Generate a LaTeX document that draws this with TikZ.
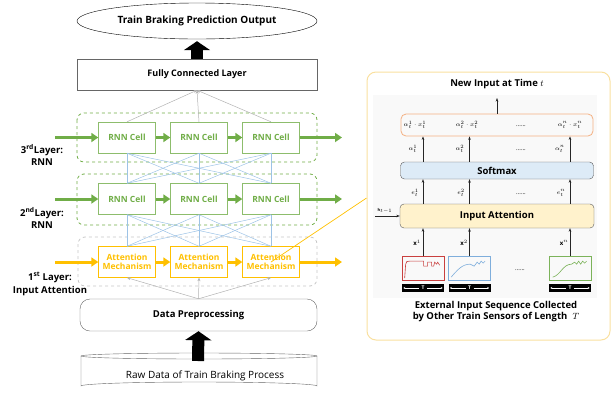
\documentclass[tikz,border=0pt]{standalone}
\usepackage{fontspec}
\setmainfont{Open Sans}
\usepackage{amsmath}
\usepackage{xcolor}
\usepackage{tikz}
\usetikzlibrary{arrows.meta}
\usetikzlibrary{shapes.geometric}
\definecolor{rnngreen}{HTML}{70AD47}
\definecolor{attgold}{HTML}{FFC000}
\definecolor{linkblue}{HTML}{9DC3E6}
\definecolor{softblue}{HTML}{DDEBF7}
\definecolor{attcream}{HTML}{FFF2CC}
\definecolor{panelgold}{HTML}{F9E0A0}
\definecolor{prodorange}{HTML}{F4B183}
\definecolor{sigred}{HTML}{C9403F}
\definecolor{sigblue}{HTML}{7FAEDC}
\definecolor{siggreen}{HTML}{7CB35A}

\begin{document}
\begin{tikzpicture}[x=1pt,y=-1pt,
		mainbox/.style={draw=gray!80!black,minimum width=240,minimum height=31,font=\bfseries\fontsize{9}{11}\selectfont},
		cell/.style={draw=rnngreen!80,text=rnngreen,minimum width=57,minimum height=31,inner sep=1pt,font=\bfseries\fontsize{8.5}{10}\selectfont},
		attcell/.style={cell,draw=attgold,text=attgold,align=center},
		layerbox/.style={dashed,rounded corners=7pt,line width=0.8pt},
		fatgreen/.style={rnngreen,line width=3pt,-{Triangle[length=7pt,width=9pt]}},
		fatgold/.style={fatgreen,attgold},
		link/.style={linkblue,line width=0.5pt},
		feed/.style={gray!60,line width=0.5pt,-{Stealth[length=3.5pt,width=3pt]}},
		blockarrow/.style={line width=12pt,-{Triangle[length=9pt,width=26pt]}},
		layerlabel/.style={align=center,font=\bfseries\fontsize{9.5}{12.5}\selectfont},
		thinarrow/.style={gray!30!black,line width=0.5pt,-{Stealth[length=3.5pt,width=2.5pt]}},
		panelbox/.style={draw=gray!70!black,rounded corners=4pt,font=\bfseries\fontsize{9.5}{11}\selectfont},
		mathlabel/.style={font=\fontsize{6}{7}\selectfont,inner sep=0pt},
		sensor/.style={minimum width=42,minimum height=24,line width=0.7pt},
		tbar/.style={fill=black,text=white,minimum width=42,minimum height=8,inner sep=0pt,font=\bfseries\fontsize{5}{5}\selectfont}]
			\useasboundingbox (0,0) rectangle (614,392);
			% left network
			\node[draw,ellipse,minimum width=240,minimum height=36,font=\bfseries\fontsize{10}{12}\selectfont] (out) at (197,21) {Train Braking Prediction Output};
			\node[mainbox] (fc) at (197,74.5) {Fully Connected Layer};
			\draw[blockarrow,shorten >=2pt] (fc.north) -- (out.south);
			\draw[layerbox,rnngreen] (77,113) rectangle (317,162);
			\draw[layerbox,rnngreen] (77,174) rectangle (317,225);
			\draw[layerbox,gray!45] (78,237) rectangle (317,286);
			\foreach \i/\x in {1/127,2/199,3/271} {
				\node[cell] (r3\i) at (\x,137.5) {RNN Cell};
				\node[cell] (r2\i) at (\x,199) {RNN Cell};
				\node[attcell] (att\i) at (\x,262) {Attention\\[-1pt]Mechanism};
			}
			\foreach \i in {1,2,3} {
				\draw[feed] (r3\i.north) -- (fc.south);
				\foreach \j in {1,2,3} {
					\draw[link] (r3\i.south) -- (r2\j.north);
					\draw[link] (r2\i.south) -- (att\j.north);
				}
			}
			\coordinate (r3in) at (55,137.5);
			\coordinate (r3out) at (342,137.5);
			\coordinate (r2in) at (55,199);
			\coordinate (r2out) at (342,199);
			\coordinate (attin) at (55,262);
			\coordinate (attout) at (342,262);
			\draw[fatgreen] (r3in) -- (r31.west);
			\draw[fatgreen] (r31) -- (r32);
			\draw[fatgreen] (r32) -- (r33);
			\draw[fatgreen] (r33.east) -- (r3out);
			\draw[fatgreen] (r2in) -- (r21.west);
			\draw[fatgreen] (r21) -- (r22);
			\draw[fatgreen] (r22) -- (r23);
			\draw[fatgreen] (r23.east) -- (r2out);
			\draw[fatgold] (attin) -- (att1.west);
			\draw[fatgold] (att1) -- (att2);
			\draw[fatgold] (att2) -- (att3);
			\draw[fatgold] (att3.east) -- (attout);
			\node[layerlabel] (l3) at (42,155) {3\textsuperscript{rd}Layer:\\RNN};
			\node[layerlabel] (l2) at (42,218) {2\textsuperscript{nd}Layer:\\RNN};
			\node[layerlabel] (l1) at (50,284) {1\textsuperscript{st} Layer:\\Input Attention};
			\node[mainbox,draw,minimum width=237,minimum height=32,rounded corners=10pt,font=\bfseries\fontsize{9.5}{11}\selectfont] (prep) at (198.5,315) {Data Preprocessing};
			\foreach \i in {1,2,3}
				\draw[feed] (prep.north) -- (att\i.south);
			% raw data cylinder
			\draw[gray!80!black,fill=white] (81,356) -- (81,386) arc (180:360:118 and 4) -- (317,356);
			\draw[gray!80!black,fill=white] (199,356) ellipse (118 and 3);
			\node[font=\fontsize{10}{12}\selectfont] (raw) at (205,376) {Raw Data of Train Braking Process};
			\coordinate (rawtop) at (198,361);
			\draw[blockarrow] (rawtop) -- (prep.south);
			% right panel
			\node[draw=panelgold,line width=1pt,rounded corners=9pt,minimum width=243,minimum height=268] (panel) at (488.5,206) {};
			\fill[gray!5] (373,95) rectangle (597,298);
			\draw[attgold,line width=0.7pt] (att3.center) -- ([yshift=8pt]panel.west);
			\node[font=\bfseries\fontsize{9.5}{11}\selectfont] (newin) at (497,84) {New Input at Time $t$};
			\node[draw=prodorange,line width=0.8pt,rounded corners=5pt,minimum width=192,minimum height=22] (prod) at (497,125) {};
			\node[mathlabel] (p1) at (415,125) {$\alpha_t^1\cdot x_t^1$};
			\node[mathlabel] (p2) at (467,125) {$\alpha_t^2\cdot x_t^2$};
			\node[mathlabel] (p3) at (521,126) {......};
			\node[mathlabel] (p4) at (570,125) {$\alpha_t^n\cdot x_t^n$};
			\coordinate (newtop) at (497,98);
			\draw[thinarrow] (prod.north) -- (newtop);
			\node[panelbox,fill=softblue,minimum width=193,minimum height=17] (soft) at (497,170.5) {Softmax};
			\node[panelbox,fill=attcream,minimum width=194,minimum height=24] (inatt) at (497,216) {Input Attention};
			\coordinate (c1) at (423,0);
			\coordinate (c2) at (469.5,0);
			\coordinate (c3) at (570,0);
			\foreach \k in {1,2,3} {
				\draw[thinarrow] (soft.north -| c\k) -- (prod.south -| c\k);
				\draw[thinarrow] (inatt.north -| c\k) -- (soft.south -| c\k);
			}
			\node[mathlabel] (a1) at (413,149) {$\alpha_t^1$};
			\node[mathlabel] (a2) at (460,149) {$\alpha_t^2$};
			\node[mathlabel] (a3) at (521,150) {......};
			\node[mathlabel] (a4) at (560,149) {$\alpha_t^n$};
			\node[mathlabel] (e1) at (415,193) {$e_t^1$};
			\node[mathlabel] (e2) at (461,193) {$e_t^2$};
			\node[mathlabel] (e3) at (521,194) {......};
			\node[mathlabel] (e4) at (561,193) {$e_t^n$};
			\coordinate (hprev) at (375,216);
			\draw[thinarrow] (hprev) -- (inatt.west);
			\node[font=\fontsize{4}{4}\selectfont,inner sep=0pt] (hlab) at (385,211) {$\mathbf{h}_{t-1}$};
			% sensor sequences
			\node[sensor,draw=sigred] (s1) at (423,268.5) {};
			\node[sensor,draw=sigblue] (s2) at (469.5,268.5) {};
			\node[sensor,draw=siggreen] (s3) at (570,268.5) {};
			\node[mathlabel] (sdots) at (520,270) {......};
			\foreach \k in {1,2,3}
				\draw[thinarrow] (s\k.north) -- (inatt.south -| s\k);
			\node[mathlabel] (x1) at (417,243) {$\mathbf{x}^1$};
			\node[mathlabel] (x2) at (464,243) {$\mathbf{x}^2$};
			\node[mathlabel] (x3) at (564,243) {$\mathbf{x}^n$};
			\begin{scope}[shift={(s1.north west)},sigred,line width=0.6pt]
				\draw (3,22) -- (4,8) .. controls (5,5) .. (8,5) -- (22,5) -- (22,10) -- (26,10) -- (26,6) -- (30,6) -- (30,10) -- (32,10) -- (33,6) -- (35,8) -- (36,6) -- (38,9);
			\end{scope}
			\begin{scope}[shift={(s2.north west)},sigblue,line width=0.6pt]
				\draw (3,21) .. controls (9,14) and (14,8) .. (22,8) -- (26,10) -- (29,6) -- (31,8) -- (33,5) -- (35,7) -- (37,5);
			\end{scope}
			\begin{scope}[shift={(s3.north west)},siggreen,line width=0.6pt]
				\draw (4,21) .. controls (12,19) and (14,8) .. (23,8) -- (26,6) -- (28,8) -- (30,5) -- (32,8) -- (34,5) -- (36,7) -- (38,5);
			\end{scope}
			\foreach \k in {1,2,3} {
				\node[tbar] (b\k) at (s\k.south |- 0,288) {T};
				\draw[white,line width=0.4pt,-{Stealth[length=2pt,width=2pt]}] ([xshift=-4pt]b\k.center) -- ([xshift=1.5pt]b\k.west);
				\draw[white,line width=0.4pt,-{Stealth[length=2pt,width=2pt]}] ([xshift=4pt]b\k.center) -- ([xshift=-1.5pt]b\k.east);
			}
			\node[align=center,font=\bfseries\fontsize{9.5}{10.5}\selectfont] (caption) at (496,311.5) {External Input Sequence Collected\\by Other Train Sensors of Length \;$T$};
\end{tikzpicture}
\end{document}
